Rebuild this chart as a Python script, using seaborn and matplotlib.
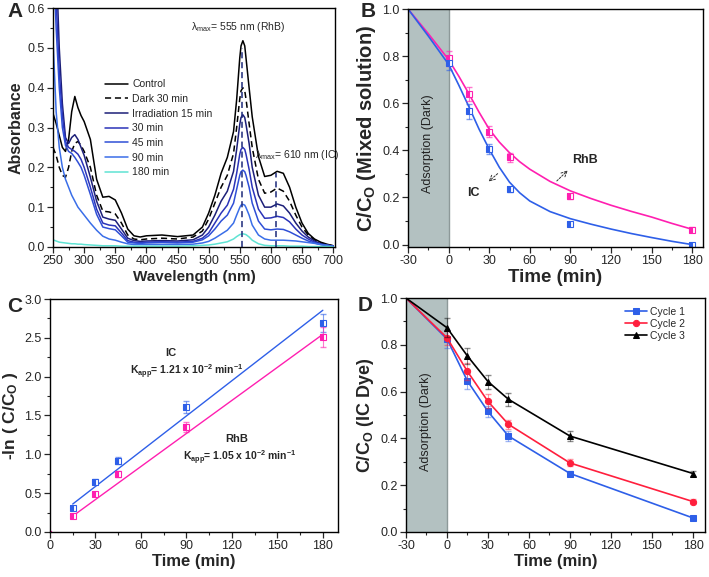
import matplotlib
matplotlib.use("Agg")
import matplotlib.pyplot as plt
from matplotlib.ticker import MultipleLocator, FormatStrFormatter
import seaborn as sns

# ---- Panel A: UV-vis spectra ----
wl = [250, 255, 260, 265, 270, 275, 280, 285, 290, 295, 300, 310, 320, 330, 340,
      350, 360, 370, 380, 390, 400, 425, 450, 475, 490, 500, 510, 520, 530, 540,
      545, 550, 552, 555, 558, 560, 565, 570, 580, 590, 600, 610, 620, 630, 640, 650, 660,
      670, 680, 690, 700]
abs_control = [0.335, 0.31, 0.28, 0.25, 0.24, 0.27, 0.34, 0.378, 0.35, 0.33, 0.315, 0.27, 0.17, 0.125, 0.127,
               0.118, 0.085, 0.045, 0.028, 0.025, 0.028, 0.03, 0.026, 0.03, 0.05, 0.085, 0.13, 0.185, 0.225, 0.29,
               0.37, 0.475, 0.505, 0.518, 0.505, 0.475, 0.40, 0.327, 0.227, 0.177, 0.18, 0.19, 0.185, 0.15, 0.10,
               0.06, 0.034, 0.02, 0.012, 0.007, 0.003]
abs_dark30 = [0.25, 0.23, 0.2, 0.18, 0.175, 0.2, 0.24, 0.26, 0.265, 0.255, 0.24, 0.2, 0.13, 0.09, 0.088,
              0.083, 0.06, 0.03, 0.02, 0.018, 0.02, 0.022, 0.02, 0.025, 0.04, 0.07, 0.11, 0.15, 0.18, 0.235,
              0.3, 0.372, 0.392, 0.4, 0.392, 0.372, 0.31, 0.25, 0.17, 0.135, 0.138, 0.148, 0.14, 0.115, 0.08,
              0.05, 0.03, 0.018, 0.01, 0.006, 0.003]
abs_irr15 = [0.9, 0.72, 0.5, 0.36, 0.275, 0.26, 0.275, 0.282, 0.27, 0.25, 0.23, 0.175, 0.115, 0.075, 0.07,
             0.067, 0.045, 0.022, 0.016, 0.014, 0.015, 0.016, 0.015, 0.018, 0.03, 0.05, 0.08, 0.115, 0.14, 0.19,
             0.245, 0.308, 0.325, 0.332, 0.325, 0.308, 0.26, 0.2, 0.13, 0.1, 0.1, 0.108, 0.103, 0.085, 0.06,
             0.04, 0.025, 0.015, 0.008, 0.005, 0.002]
abs_30 = [0.85, 0.62, 0.44, 0.33, 0.265, 0.25, 0.245, 0.24, 0.233, 0.22, 0.2, 0.15, 0.095, 0.06, 0.055,
          0.053, 0.035, 0.016, 0.012, 0.011, 0.012, 0.013, 0.012, 0.014, 0.022, 0.035, 0.06, 0.085, 0.105, 0.145,
          0.185, 0.233, 0.245, 0.25, 0.245, 0.233, 0.195, 0.15, 0.095, 0.072, 0.073, 0.077, 0.074, 0.063, 0.045,
          0.03, 0.02, 0.012, 0.007, 0.004, 0.002]
abs_45 = [0.75, 0.55, 0.4, 0.3, 0.255, 0.24, 0.235, 0.225, 0.213, 0.2, 0.18, 0.132, 0.082, 0.05, 0.046,
          0.043, 0.028, 0.012, 0.01, 0.009, 0.01, 0.011, 0.01, 0.012, 0.018, 0.028, 0.045, 0.065, 0.08, 0.11,
          0.145, 0.18, 0.189, 0.193, 0.189, 0.18, 0.15, 0.11, 0.065, 0.045, 0.043, 0.045, 0.044, 0.038, 0.03,
          0.022, 0.015, 0.01, 0.006, 0.004, 0.002]
abs_90 = [0.52, 0.34, 0.25, 0.2, 0.17, 0.15, 0.13, 0.115, 0.1, 0.09, 0.08, 0.06, 0.042, 0.027, 0.02,
          0.017, 0.012, 0.008, 0.006, 0.006, 0.006, 0.006, 0.006, 0.007, 0.01, 0.014, 0.022, 0.032, 0.042, 0.06,
          0.08, 0.099, 0.105, 0.107, 0.105, 0.099, 0.08, 0.055, 0.03, 0.02, 0.017, 0.017, 0.017, 0.016, 0.015,
          0.013, 0.011, 0.009, 0.006, 0.004, 0.002]
abs_180 = [0.018, 0.015, 0.012, 0.011, 0.01, 0.009, 0.008, 0.008, 0.007, 0.007, 0.006, 0.005, 0.004, 0.003, 0.003,
           0.003, 0.002, 0.002, 0.002, 0.002, 0.002, 0.002, 0.002, 0.003, 0.004, 0.005, 0.007, 0.01, 0.013, 0.02,
           0.026, 0.031, 0.032, 0.033, 0.032, 0.031, 0.025, 0.017, 0.008, 0.004, 0.003, 0.003, 0.003, 0.002, 0.002,
           0.002, 0.001, 0.001, 0.001, 0.001, 0.0]
spec_labels = ["Control", "Dark 30 min", "Irradiation 15 min", "30 min", "45 min", "90 min", "180 min"]
peak_wl = [553, 609]
peak_top = [0.50, 0.185]

# ---- Panel B: mixed solution ----
b_t = [0, 15, 30, 45, 90, 180]
b_rhb = [0.79, 0.64, 0.48, 0.37, 0.205, 0.063]
b_rhb_err = [0.03, 0.03, 0.025, 0.02, 0.01, 0.01]
b_ic = [0.77, 0.565, 0.405, 0.235, 0.088, 0.0]
b_ic_err = [0.03, 0.03, 0.02, 0.01, 0.01, 0.006]
fit_t = [-30, -15, 0, 7.5, 15, 22.5, 30, 37.5, 45, 52.5, 60, 75, 90, 105, 120, 135, 150, 165, 180]
fit_rhb = [1.0, 0.895, 0.785, 0.715, 0.64, 0.562, 0.49, 0.435, 0.39, 0.352, 0.32, 0.268, 0.228, 0.196,
           0.167, 0.141, 0.117, 0.09, 0.065]
fit_ic = [1.0, 0.885, 0.765, 0.677, 0.585, 0.49, 0.405, 0.328, 0.265, 0.22, 0.185, 0.14, 0.11, 0.087,
          0.066, 0.047, 0.03, 0.014, 0.0]

# ---- Panel C: kinetics ----
c_t = [15, 30, 45, 90, 180]
c_ic = [0.31, 0.65, 0.92, 1.61, 2.69]
c_ic_err = [0.03, 0.03, 0.05, 0.08, 0.12]
c_rhb = [0.21, 0.49, 0.75, 1.35, 2.51]
c_rhb_err = [0.02, 0.03, 0.04, 0.06, 0.13]
line_t = [15, 180]
line_ic = [0.36, 2.855]
line_rhb = [0.205, 2.545]

# ---- Panel D: recycling ----
d_t = [-30, 0, 15, 30, 45, 90, 180]
cycle1 = [1.0, 0.825, 0.645, 0.515, 0.41, 0.25, 0.06]
cycle1_err = [0, 0.04, 0.035, 0.025, 0.02, 0.01, 0.005]
cycle2 = [1.0, 0.83, 0.686, 0.558, 0.46, 0.295, 0.13]
cycle2_err = [0, 0.03, 0.035, 0.03, 0.02, 0.015, 0.01]
cycle3 = [1.0, 0.873, 0.752, 0.643, 0.567, 0.41, 0.25]
cycle3_err = [0, 0.04, 0.035, 0.03, 0.028, 0.02, 0.01]

sns.set_style("ticks")
plt.rcParams['font.family'] = ['Liberation Sans', 'DejaVu Sans']
plt.rcParams['mathtext.fontset'] = 'custom'
plt.rcParams['mathtext.rm'] = 'Liberation Sans'
plt.rcParams['mathtext.bf'] = 'Liberation Sans:bold'
plt.rcParams['mathtext.it'] = 'Liberation Sans:italic'
plt.rcParams['axes.linewidth'] = 1.0
plt.rcParams['axes.unicode_minus'] = False

BLUE = '#2e5fe8'
PINK = '#ff1fb0'
RED = '#ff1f3d'
SHADE = '#b3c1c1'

fig = plt.figure(figsize=(7.09, 5.77), dpi=100)
axA = fig.add_axes([0.0748, 0.572, 0.3977, 0.414])
axB = fig.add_axes([0.5755, 0.572, 0.416, 0.4124])
axC = fig.add_axes([0.0705, 0.078, 0.4062, 0.4038])
axD = fig.add_axes([0.5726, 0.078, 0.4218, 0.4055])


def style_axis(ax, xmaj, xmin, ymaj, ymin, yfmt):
    ax.xaxis.set_major_locator(MultipleLocator(xmaj))
    ax.xaxis.set_minor_locator(MultipleLocator(xmin))
    ax.yaxis.set_major_locator(MultipleLocator(ymaj))
    ax.yaxis.set_minor_locator(MultipleLocator(ymin))
    ax.yaxis.set_major_formatter(FormatStrFormatter(yfmt))
    ax.tick_params(which='major', direction='out', length=4, width=0.9, labelsize=9, pad=2)
    ax.tick_params(which='minor', direction='out', length=2.5, width=0.8)
    for s in ax.spines.values():
        s.set_visible(True)
        s.set_color('black')


# ---- A ----
spec_sets = [abs_control, abs_dark30, abs_irr15, abs_30, abs_45, abs_90, abs_180]
spec_colors = ['black', 'black', '#1c1f78', '#2b33b8', '#2f4fd6', '#3a6ee8', '#5fe3d3']
spec_styles = ['-', (0, (4, 2.5)), '-', '-', '-', '-', '-']
for vals, col, ls, lab in zip(spec_sets, spec_colors, spec_styles, spec_labels):
    sns.lineplot(x=wl, y=vals, ax=axA, color=col, linestyle=ls, lw=1.1, label=lab)
axA.vlines(peak_wl, 0, peak_top, colors='#1c2a7a', linestyles=(0, (4, 2.5)), lw=1.1)
axA.set_xlim(250, 703)
axA.set_ylim(0, 0.6)
style_axis(axA, 50, 25, 0.1, 0.05, '%.1f')
axA.set_xlabel('Wavelength (nm)', fontsize=11, fontweight='bold', labelpad=2)
axA.set_ylabel('Absorbance', fontsize=11.5, fontweight='bold', labelpad=3)
axA.legend(loc='upper left', bbox_to_anchor=(0.185, 0.702), frameon=False, fontsize=7.5,
           borderpad=0, borderaxespad=0, labelspacing=0.45, handlelength=2.2, handletextpad=0.4)
axA.text(547, 0.552, r'$\mathrm{\lambda}_{\rm max}$= 555 nm (RhB)', fontsize=7.5, ha='center', va='center')
axA.text(642, 0.231, r'$\mathrm{\lambda}_{\rm max}$= 610 nm (IC)', fontsize=7.5, ha='center', va='center')

# ---- B ----
axB.axvspan(-30, 0, color=SHADE, lw=0)
axB.axvline(0, color='#8d9999', lw=1.0)
sns.lineplot(x=fit_t, y=fit_rhb, ax=axB, color=PINK, lw=1.2)
sns.lineplot(x=fit_t, y=fit_ic, ax=axB, color=BLUE, lw=1.2)
axB.errorbar(b_t, b_rhb, yerr=b_rhb_err, fmt='none', ecolor=PINK, alpha=0.6, capsize=2, elinewidth=0.8)
axB.errorbar(b_t, b_ic, yerr=b_ic_err, fmt='none', ecolor=BLUE, alpha=0.6, capsize=2, elinewidth=0.8)
axB.plot(b_t, b_rhb, 's', ms=4.5, color=PINK, mec=PINK, mew=0.8, fillstyle='left', markerfacecoloralt='white')
axB.plot(b_t, b_ic, 's', ms=4.5, color=BLUE, mec=BLUE, mew=0.8, fillstyle='left', markerfacecoloralt='white')
axB.text(-15, 0.43, 'Adsorption (Dark)', rotation=90, fontsize=9, ha='center', va='center', color='#222222')
axB.text(101, 0.357, 'RhB', fontsize=9, fontweight='bold', ha='center', va='center')
axB.text(18, 0.22, 'IC', fontsize=9, fontweight='bold', ha='center', va='center')
axB.annotate('', xy=(89.5, 0.323), xytext=(78.5, 0.262),
             arrowprops=dict(arrowstyle='->', lw=0.7, linestyle=(0, (2, 1.5)), color='#333333'))
axB.annotate('', xy=(28, 0.26), xytext=(37.8, 0.309),
             arrowprops=dict(arrowstyle='->', lw=0.7, linestyle=(0, (2, 1.5)), color='#333333'))
axB.set_xlim(-30, 188)
axB.set_ylim(-0.01, 1.0)
style_axis(axB, 30, 15, 0.2, 0.1, '%.1f')
axB.set_xlabel('Time (min)', fontsize=13.5, fontweight='bold', labelpad=1)
axB.set_ylabel(r'C/C$_\mathbf{O}$ (Mixed solution)', fontsize=14.5, fontweight='bold', labelpad=3)

# ---- C ----
sns.lineplot(x=line_t, y=line_ic, ax=axC, color=BLUE, lw=1.0)
sns.lineplot(x=line_t, y=line_rhb, ax=axC, color=PINK, lw=1.0)
axC.errorbar(c_t, c_ic, yerr=c_ic_err, fmt='none', ecolor=BLUE, alpha=0.6, capsize=2, elinewidth=0.8)
axC.errorbar(c_t, c_rhb, yerr=c_rhb_err, fmt='none', ecolor=PINK, alpha=0.6, capsize=2, elinewidth=0.8)
axC.plot(c_t, c_ic, 's', ms=4.5, color=BLUE, mec=BLUE, mew=0.8, fillstyle='left', markerfacecoloralt='white')
axC.plot(c_t, c_rhb, 's', ms=4.5, color=PINK, mec=PINK, mew=0.8, fillstyle='left', markerfacecoloralt='white')
axC.plot([0], [0], 's', ms=2, color=PINK)
axC.text(80, 2.30, 'IC', fontsize=8, fontweight='bold', ha='center', va='center')
axC.text(90, 2.06, r'K$_\mathbf{app}$= 1.21 x 10$^\mathbf{-2}$ min$^\mathbf{-1}$', fontsize=7.5,
         fontweight='bold', ha='center', va='center')
axC.text(123, 1.20, 'RhB', fontsize=8, fontweight='bold', ha='center', va='center')
axC.text(125, 0.95, r'K$_\mathbf{app}$= 1.05 x 10$^\mathbf{-2}$ min$^\mathbf{-1}$', fontsize=7.5,
         fontweight='bold', ha='center', va='center')
axC.set_xlim(0, 190)
axC.set_ylim(0, 3.0)
style_axis(axC, 30, 15, 0.5, 0.25, '%.1f')
axC.set_xlabel('Time (min)', fontsize=12, fontweight='bold', labelpad=1)
axC.set_ylabel(r'-ln ( C/C$_\mathbf{O}$ )', fontsize=12.5, fontweight='bold', labelpad=3)

# ---- D ----
axD.axvspan(-30, 0, color=SHADE, lw=0)
axD.axvline(0, color='#8d9999', lw=1.0)
cycles = [(cycle1, cycle1_err, BLUE, 's', 'Cycle 1', 4.0),
          (cycle2, cycle2_err, RED, 'o', 'Cycle 2', 4.5),
          (cycle3, cycle3_err, 'black', '^', 'Cycle 3', 4.5)]
for vals, err, col, mk, lab, ms in cycles:
    axD.errorbar(d_t[1:], vals[1:], yerr=err[1:], fmt='none', ecolor=col, alpha=0.45,
                 capsize=2, elinewidth=0.8)
    sns.lineplot(x=d_t, y=vals, ax=axD, color=col, lw=1.2, marker=mk, markersize=ms,
                 markeredgecolor=col, markevery=list(range(1, len(d_t))), label=lab)
axD.text(-15, 0.47, 'Adsorption (Dark)', rotation=90, fontsize=9, ha='center', va='center', color='#222222')
axD.legend(loc='upper left', bbox_to_anchor=(0.732, 0.962), frameon=False, fontsize=7.5,
           borderpad=0, borderaxespad=0, labelspacing=0.2, handlelength=2.1, handletextpad=0.3)
axD.set_xlim(-30, 188.8)
axD.set_ylim(0, 1.0)
style_axis(axD, 30, 15, 0.2, 0.1, '%.1f')
axD.set_xlabel('Time (min)', fontsize=12, fontweight='bold', labelpad=1)
axD.set_ylabel(r'C/C$_\mathbf{O}$ (IC Dye)', fontsize=13, fontweight='bold', labelpad=3)

# panel letters
fig.text(0.010, 0.997, 'A', fontsize=15, fontweight='bold', va='top')
fig.text(0.508, 0.997, 'B', fontsize=15, fontweight='bold', va='top')
fig.text(0.010, 0.485, 'C', fontsize=15, fontweight='bold', va='top')
fig.text(0.505, 0.487, 'D', fontsize=15, fontweight='bold', va='top')

fig.savefig('out.png', dpi=100)
